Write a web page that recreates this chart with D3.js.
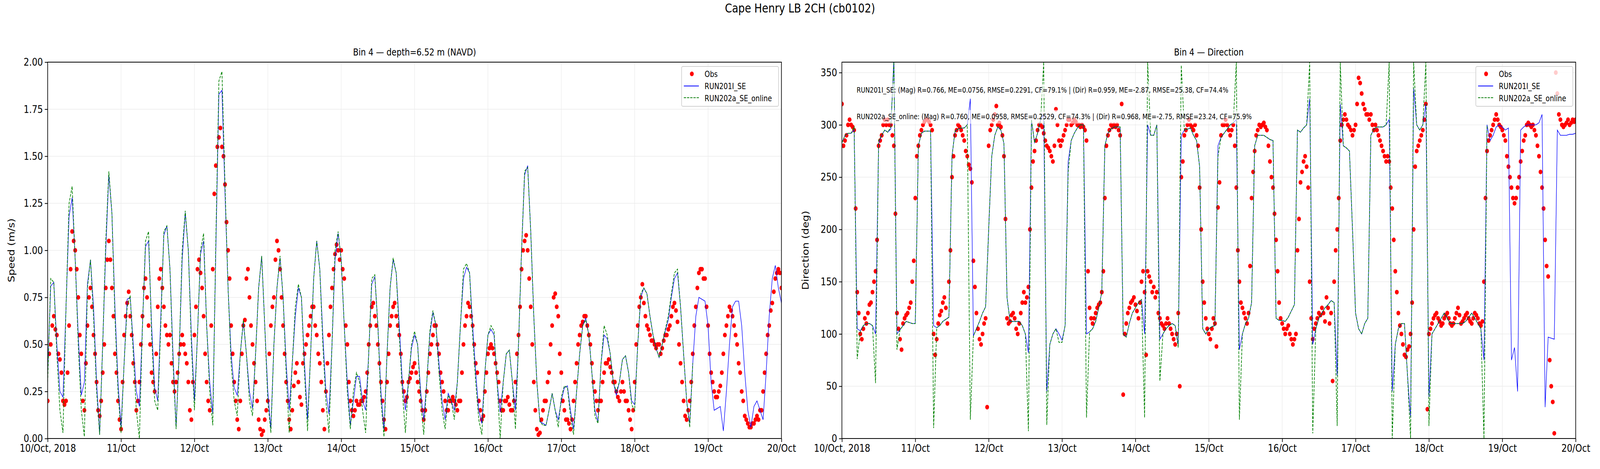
<!DOCTYPE html>
<html lang="en">
<head>
<meta charset="utf-8" />
<title>Cape Henry LB 2CH (cb0102)</title>
<script src="https://d3js.org/d3.v7.min.js"></script>
<style>
  html, body { margin: 0; padding: 0; width: 100%; height: 100%; overflow: hidden; background: #fff; }
  svg { display: block; }
  text { font-family: "DejaVu Sans", sans-serif; }
</style>
</head>
<body>
<script>
// ---- data (hours since 10/Oct 2018 00:00) ----
const dayLabels = ["10/Oct, 2018", "11/Oct", "12/Oct", "13/Oct", "14/Oct", "15/Oct", "16/Oct", "17/Oct", "18/Oct", "19/Oct", "20/Oct"];
const speedTicks = [0, 0.25, 0.5, 0.75, 1.0, 1.25, 1.5, 1.75, 2.0];
const dirTicks = [0, 50, 100, 150, 200, 250, 300, 350];

// model speed, hourly
const speedRun201 = [
  0.35,0.81,0.83,0.5,0.25,0.22,0.7,1.18,1.28,0.95,0.55,0.23,0.3,0.82,0.95,0.7,0.3,0.02,0.5,1.0,1.40,1.2,0.7,0.3,
  0.06,0.4,0.74,0.75,0.5,0.25,0.17,0.6,1.02,1.05,0.6,0.27,0.2,0.65,1.08,1.13,0.9,0.45,0.06,0.45,0.95,1.2,1.0,0.55,
  0.2,0.55,0.98,1.05,0.6,0.3,0.13,1.0,1.83,1.85,1.3,0.8,0.45,0.27,0.23,0.45,0.62,0.45,0.25,0.16,0.45,0.8,0.97,0.6,
  0.25,0.05,0.5,0.8,0.96,0.75,0.4,0.15,0.4,0.65,0.8,0.75,0.4,0.1,0.45,0.85,1.05,0.9,0.55,0.25,0.13,0.5,0.95,1.09,
  0.95,0.6,0.3,0.07,0.2,0.33,0.33,0.2,0.15,0.45,0.82,0.86,0.6,0.25,0.05,0.45,0.8,0.95,0.88,0.6,0.3,0.15,0.3,0.48,
  0.55,0.5,0.25,0.1,0.3,0.55,0.67,0.6,0.4,0.2,0.1,0.24,0.2,0.15,0.3,0.6,0.85,0.91,0.88,0.6,0.35,0.15,0.08,0.35,
  0.55,0.58,0.55,0.3,0.14,0.3,0.45,0.47,0.3,0.15,0.5,1.0,1.4,1.45,1.1,0.65,0.3,0.09,0.08,0.07,0.15,0.24,0.15,0.1,
  0.2,0.27,0.28,0.15,0.05,0.25,0.45,0.6,0.64,0.55,0.35,0.15,0.09,0.4,0.55,0.53,0.45,0.3,0.23,0.3,0.42,0.44,0.35,0.2,
  0.18,0.5,0.75,0.8,0.77,0.65,0.55,0.48,0.43,0.5,0.57,0.63,0.75,0.85,0.88,0.7,0.45,0.2,0.08,0.4,0.65,0.75,0.74,0.73,
  0.6,0.3,0.15,0.16,0.17,0.04,0.25,0.5,0.7,0.73,0.73,0.6,0.35,0.15,0.06,0.17,0.2,0.15,0.1,0.35,0.65,0.85,0.92,0.8,0.72
];
const speedRun202 = [
  0.3,0.85,0.83,0.45,0.15,0.03,0.7,1.25,1.34,0.95,0.5,0.15,0.01,0.8,0.95,0.65,0.25,0.02,0.5,1.05,1.42,1.2,0.65,0.25,
  0.03,0.4,0.7,0.76,0.45,0.15,0.0,0.6,1.05,1.1,0.55,0.2,0.15,0.6,1.1,1.13,0.9,0.4,0.05,0.45,1.0,1.21,1.0,0.5,
  0.15,0.55,1.0,1.09,0.6,0.25,0.07,1.05,1.9,1.95,1.35,0.8,0.4,0.2,0.12,0.45,0.63,0.45,0.2,0.12,0.45,0.8,0.97,0.6,
  0.2,0.03,0.5,0.8,0.97,0.75,0.35,0.03,0.4,0.7,0.82,0.75,0.35,0.04,0.45,0.85,1.05,0.9,0.5,0.2,0.03,0.5,1.0,1.1,
  0.95,0.6,0.25,0.05,0.25,0.35,0.3,0.15,0.03,0.45,0.85,0.87,0.6,0.2,0.01,0.45,0.8,0.96,0.88,0.55,0.25,0.03,0.3,0.5,
  0.57,0.5,0.2,0.02,0.3,0.57,0.68,0.6,0.35,0.15,0.05,0.23,0.2,0.1,0.3,0.6,0.9,0.93,0.88,0.55,0.3,0.1,0.02,0.35,
  0.55,0.6,0.57,0.3,0.0,0.3,0.45,0.47,0.3,0.05,0.5,1.0,1.42,1.44,1.1,0.65,0.3,0.09,0.07,0.07,0.15,0.24,0.15,0.06,
  0.22,0.28,0.27,0.12,0.02,0.25,0.45,0.6,0.63,0.55,0.35,0.12,0.08,0.4,0.6,0.55,0.45,0.3,0.25,0.3,0.42,0.44,0.35,0.18,
  0.15,0.5,0.77,0.8,0.77,0.65,0.55,0.48,0.43,0.5,0.58,0.65,0.77,0.88,0.9,0.7,0.45,0.2,0.06,0.4
];
// observed speed, half-hourly
const speedObs = [
  0.2,0.45,0.5,0.6,0.65,0.58,0.55,0.45,0.42,0.35,0.2,0.18,0.2,0.35,0.6,0.9,
  1.1,1.05,1.0,0.9,0.75,0.55,0.45,0.2,0.15,0.4,0.6,0.75,0.8,0.7,0.55,0.45,
  0.3,0.15,0.12,0.2,0.35,0.5,0.8,0.95,1.05,0.95,0.8,0.65,0.45,0.35,0.2,0.1,
  0.05,0.3,0.55,0.65,0.72,0.78,0.65,0.55,0.4,0.3,0.15,0.2,0.3,0.5,0.65,0.8,
  0.85,0.75,0.6,0.5,0.35,0.3,0.25,0.45,0.7,0.85,0.9,0.8,0.7,0.6,0.55,0.5,
  0.55,0.4,0.3,0.25,0.3,0.35,0.45,0.5,0.55,0.5,0.45,0.4,0.3,0.15,0.1,0.3,
  0.55,0.7,0.9,0.95,0.88,0.8,0.65,0.45,0.3,0.2,0.15,0.6,0.9,1.3,1.45,1.55,
  1.6,1.65,1.55,1.5,1.35,1.15,1.0,0.85,0.6,0.45,0.3,0.2,0.1,0.05,0.2,0.45,
  0.6,0.63,0.85,0.9,0.75,0.6,0.5,0.4,0.3,0.2,0.1,0.05,0.02,0.04,0.1,0.15,
  0.2,0.45,0.6,0.7,0.75,0.95,1.05,1.0,0.9,0.75,0.6,0.45,0.3,0.2,0.1,0.05,
  0.15,0.28,0.35,0.4,0.3,0.22,0.18,0.4,0.45,0.5,0.55,0.6,0.65,0.7,0.7,0.6,
  0.55,0.45,0.4,0.3,0.15,0.05,0.25,0.4,0.55,0.7,0.8,0.9,0.98,1.03,1.0,0.95,
  1.0,0.9,0.85,0.6,0.5,0.3,0.2,0.15,0.12,0.15,0.2,0.18,0.18,0.2,0.2,0.22,
  0.25,0.35,0.5,0.6,0.7,0.72,0.65,0.6,0.5,0.4,0.3,0.2,0.1,0.05,0.3,0.45,
  0.6,0.65,0.7,0.72,0.65,0.6,0.55,0.45,0.3,0.25,0.2,0.22,0.3,0.32,0.35,0.38,
  0.4,0.35,0.3,0.25,0.2,0.15,0.1,0.15,0.25,0.35,0.45,0.5,0.55,0.6,0.6,0.5,
  0.45,0.35,0.3,0.25,0.2,0.15,0.15,0.2,0.2,0.22,0.2,0.18,0.15,0.2,0.2,0.35,
  0.5,0.6,0.65,0.72,0.7,0.65,0.6,0.5,0.4,0.35,0.2,0.15,0.1,0.12,0.25,0.35,
  0.45,0.48,0.5,0.48,0.45,0.4,0.35,0.3,0.2,0.15,0.15,0.2,0.2,0.22,0.18,0.15,
  0.15,0.2,0.3,0.45,0.55,0.7,0.9,1.0,1.05,1.08,1.0,0.85,0.7,0.5,0.3,0.15,
  0.05,0.02,0.03,0.1,0.15,0.2,0.2,0.3,0.35,0.5,0.6,0.75,0.77,0.7,0.65,0.45,
  0.35,0.2,0.15,0.1,0.1,0.08,0.05,0.1,0.2,0.3,0.4,0.5,0.55,0.6,0.62,0.65,
  0.65,0.6,0.55,0.5,0.4,0.3,0.25,0.2,0.15,0.2,0.2,0.3,0.35,0.4,0.4,0.42,
  0.38,0.35,0.3,0.3,0.25,0.22,0.2,0.25,0.3,0.25,0.2,0.2,0.15,0.1,0.05,0.15,
  0.3,0.5,0.6,0.7,0.75,0.82,0.72,0.65,0.6,0.58,0.55,0.52,0.52,0.5,0.48,0.5,
  0.5,0.45,0.48,0.52,0.55,0.55,0.58,0.6,0.65,0.7,0.72,0.68,0.62,0.5,0.4,0.3,
  0.2,0.12,0.1,0.15,0.2,0.3,0.45,0.6,0.7,0.8,0.88,0.9,0.9,0.85,0.85,0.7,
  0.6,0.45,0.35,0.3,0.25,0.22,0.22,0.25,0.28,0.35,0.45,0.55,0.6,0.65,0.7,0.68,
  0.65,0.6,0.55,0.5,0.4,0.35,0.25,0.2,0.12,0.1,0.08,0.06,0.06,0.08,0.08,0.1,
  0.12,0.1,0.15,0.15,0.25,0.35,0.45,0.55,0.6,0.68,0.72,0.78,0.85,0.88,0.9,0.88,
  0.8
];

// model direction, hourly
const dirRun201 = [
  283,290,292,292,295,105,103,108,110,110,108,100,282,290,295,293,296,365,100,104,108,112,111,110,
  110,280,292,294,294,294,108,106,108,112,114,116,270,294,296,297,297,300,325,98,105,112,120,126,
  200,270,290,298,295,282,135,112,112,112,112,108,100,82,305,283,292,305,310,45,90,100,105,100,
  94,108,265,285,292,297,300,300,100,102,105,112,125,140,280,292,296,298,298,298,100,97,110,120,
  125,130,133,100,300,290,290,300,95,100,105,108,110,108,90,290,295,296,297,290,285,260,105,100,
  105,107,108,280,288,292,296,300,302,305,85,100,110,115,130,280,290,290,290,288,286,285,115,113,
  113,112,116,122,128,295,293,297,300,325,90,105,115,120,125,128,132,130,60,320,280,278,275,200,
  120,105,100,110,115,290,296,298,298,298,300,305,45,90,105,110,110,60,20,335,300,295,300,320,
  40,100,105,110,115,120,115,110,110,110,110,110,112,116,120,115,110,105,75,300,285,290,298,300,
  298,295,297,75,87,45,295,298,300,300,300,300,302,310,30,97,96,95,295,290,290,290,291,291,292
];
const dirRun202 = [
  283,290,292,292,298,76,102,108,110,110,108,53,285,290,295,293,298,360,85,104,108,112,111,110,
  110,280,292,294,294,294,10,106,108,112,114,116,270,294,296,297,297,300,18,98,105,112,120,126,
  200,270,290,298,295,282,135,112,112,112,112,108,100,7,305,283,292,305,360,13,90,100,105,92,
  92,108,255,285,292,297,300,300,20,102,105,112,125,140,280,292,296,298,298,298,100,97,110,120,
  125,130,133,20,360,290,290,300,55,100,105,108,110,108,87,357,295,296,297,290,285,260,105,100,
  105,107,108,270,288,292,296,300,302,360,18,100,110,115,130,280,290,290,290,288,286,285,115,113,
  113,112,116,122,128,295,293,297,300,360,5,105,115,120,125,128,132,130,12,360,280,278,275,200,
  120,105,100,110,115,290,296,298,298,298,300,360,0,90,105,110,110,60,0,360,300,295,300,360,
  12,100,105,110,115,120,115,110,110,110,110,110,112,116,120,115,110,105,0,300
];
// observed direction, half-hourly
const dirObs = [
  320,280,285,290,300,305,300,298,295,220,140,120,100,95,105,115,
  110,120,128,130,140,150,160,190,280,285,290,300,305,300,305,300,
  300,290,280,215,120,105,95,85,110,115,118,120,125,130,150,170,
  230,270,280,290,295,300,303,305,305,303,300,295,100,80,95,110,
  118,122,130,135,125,110,150,180,250,270,290,295,300,298,295,290,
  285,275,270,262,258,245,170,145,120,105,95,90,100,110,115,30,
  280,295,300,305,310,318,300,302,298,290,270,210,115,110,112,118,
  120,115,105,100,110,120,130,140,130,135,145,200,240,265,275,285,
  295,300,300,298,292,285,280,278,275,270,265,280,315,300,285,280,
  285,290,295,300,305,305,300,302,305,303,300,300,298,300,298,295,
  285,160,125,115,110,115,120,125,128,130,140,160,230,280,290,295,
  300,298,300,298,300,295,290,320,42,100,110,120,125,130,132,135,
  128,122,115,130,150,160,140,80,160,155,150,140,145,135,140,120,
  115,110,108,105,110,115,110,105,100,95,90,100,120,50,250,265,
  290,295,300,305,300,298,295,300,290,280,240,200,150,130,115,105,
  100,95,105,115,110,88,221,245,290,300,300,305,300,295,290,295,
  300,280,240,180,150,130,125,120,115,110,120,165,230,255,275,290,
  295,300,298,300,302,298,295,280,265,250,240,215,190,160,130,115,
  110,105,100,105,108,100,95,90,95,100,180,210,245,255,265,270,
  260,240,150,115,95,105,110,115,120,118,125,120,112,135,125,110,
  120,55,150,180,200,230,285,300,305,310,305,300,298,295,290,295,
  300,320,345,340,330,320,315,310,310,305,310,300,295,300,295,290,
  285,280,275,270,265,270,265,240,220,190,160,140,120,108,100,90,
  80,78,85,88,100,130,200,260,275,280,285,290,295,305,320,28,
  100,105,110,115,118,120,115,112,108,110,115,118,120,115,110,108,
  110,115,120,125,118,110,112,115,118,120,115,112,110,115,120,118,
  115,110,108,112,150,230,275,285,290,295,300,305,310,305,300,298,
  295,290,285,270,260,250,240,230,225,230,240,250,265,275,285,290,
  300,302,300,298,300,295,290,280,270,255,240,220,190,165,155,75,
  50,35,5,350,330,310,305,300,298,300,302,305,300,302,305,303,
  305
];
const statLines = [
  "RUN201I_SE: (Mag) R=0.766, ME=0.0756, RMSE=0.2291, CF=79.1% | (Dir) R=0.959, ME=-2.87, RMSE=25.38, CF=74.4%",
  "RUN202a_SE_online: (Mag) R=0.760, ME=0.0958, RMSE=0.2529, CF=74.3% | (Dir) R=0.968, ME=-2.75, RMSE=23.24, CF=75.9%"
];

// ---- drawing ----
const W = 5000, H = 1200;
const svg = d3.select("body").append("svg")
  .attr("width", "100%").attr("height", "100%")
  .attr("viewBox", `0 0 ${W} ${H}`).attr("preserveAspectRatio", "none");

svg.append("text").attr("x", 2500).attr("y", 32).attr("text-anchor", "middle")
  .attr("font-size", 32).text("Cape Henry LB 2CH (cb0102)");

const hourly = arr => arr.map((v, i) => ({ t: i, v: v }));
const halfHourly = arr => arr.map((v, i) => ({ t: i / 2, v: v }));

function panel(opts) {
  const { left, right, top, bottom, domain, ticks, tickFmt, title, ylabel, obs, m1, m2, id } = opts;
  const x = d3.scaleLinear().domain([0, 240]).range([left, right]);
  const y = d3.scaleLinear().domain(domain).range([bottom, top]);
  const g = svg.append("g");

  g.append("clipPath").attr("id", "clip" + id).append("rect")
    .attr("x", left).attr("y", top).attr("width", right - left).attr("height", bottom - top);

  // grid
  g.append("g").selectAll("line").data(d3.range(0, 241, 24)).join("line")
    .attr("x1", d => x(d)).attr("x2", d => x(d)).attr("y1", top).attr("y2", bottom)
    .attr("stroke", "#ebebeb").attr("stroke-width", 1.5);
  g.append("g").selectAll("line").data(ticks).join("line")
    .attr("x1", left).attr("x2", right).attr("y1", d => y(d)).attr("y2", d => y(d))
    .attr("stroke", "#ebebeb").attr("stroke-width", 1.5);

  const plot = g.append("g").attr("clip-path", "url(#clip" + id + ")");
  plot.selectAll("circle").data(halfHourly(obs)).join("circle")
    .attr("cx", d => x(d.t)).attr("cy", d => y(d.v)).attr("r", 6).attr("fill", "#ff0000");
  const line = d3.line().x(d => x(d.t)).y(d => y(d.v));
  plot.append("path").datum(hourly(m1)).attr("d", line)
    .attr("fill", "none").attr("stroke", "#0000ff").attr("stroke-width", 1.6);
  plot.append("path").datum(hourly(m2)).attr("d", line)
    .attr("fill", "none").attr("stroke", "#008000").attr("stroke-width", 2)
    .attr("stroke-dasharray", "7,3");

  // axes
  const xAxis = d3.axisBottom(x).tickValues(d3.range(0, 241, 24))
    .tickFormat((d, i) => dayLabels[i]).tickSize(9).tickPadding(6);
  const gx = g.append("g").attr("transform", `translate(0,${bottom})`).call(xAxis);
  const yAxis = d3.axisLeft(y).tickValues(ticks).tickFormat(tickFmt).tickSize(9).tickPadding(6);
  const gy = g.append("g").attr("transform", `translate(${left},0)`).call(yAxis);
  [gx, gy].forEach(a => {
    a.select(".domain").remove();
    a.selectAll("line").attr("stroke", "#000").attr("stroke-width", 2);
    a.selectAll("text").attr("font-size", 27).attr("fill", "#000")
      .attr("font-family", "DejaVu Sans, sans-serif");
  });
  g.append("rect").attr("x", left).attr("y", top).attr("width", right - left).attr("height", bottom - top)
    .attr("fill", "none").attr("stroke", "#000").attr("stroke-width", 2);

  g.append("text").attr("x", (left + right) / 2).attr("y", top - 17).attr("text-anchor", "middle")
    .attr("font-size", 25).text(title);
  g.append("text").attr("transform", `translate(${left - 104},${(top + bottom) / 2}) rotate(-90)`)
    .attr("text-anchor", "middle").attr("font-size", 27).text(ylabel);

  // legend
  const lx = right - 312, ly = top + 11;
  const lg = g.append("g");
  lg.append("rect").attr("x", lx).attr("y", ly).attr("width", 303).attr("height", 102).attr("rx", 4)
    .attr("fill", "#fff").attr("fill-opacity", 0.8).attr("stroke", "#d0d0d0").attr("stroke-width", 2);
  lg.append("circle").attr("cx", lx + 32).attr("cy", ly + 19).attr("r", 6).attr("fill", "#ff0000");
  lg.append("line").attr("x1", lx + 7).attr("x2", lx + 54).attr("y1", ly + 50).attr("y2", ly + 50)
    .attr("stroke", "#0000ff").attr("stroke-width", 2);
  lg.append("line").attr("x1", lx + 7).attr("x2", lx + 54).attr("y1", ly + 80).attr("y2", ly + 80)
    .attr("stroke", "#008000").attr("stroke-width", 2).attr("stroke-dasharray", "7,3");
  ["Obs", "RUN201I_SE", "RUN202a_SE_online"].forEach((s, i) => {
    lg.append("text").attr("x", lx + 72).attr("y", ly + 27 + i * 31).attr("font-size", 21).text(s);
  });
  return { x, y, g };
}

const p1 = panel({ id: 1, left: 149, right: 2442, top: 159, bottom: 1122, domain: [0, 2], ticks: speedTicks,
  tickFmt: d3.format(".2f"), title: "Bin 4 \u2014 depth=6.52 m (NAVD)", ylabel: "Speed (m/s)",
  obs: speedObs, m1: speedRun201, m2: speedRun202 });
const p2 = panel({ id: 2, left: 2631, right: 4924, top: 159, bottom: 1122, domain: [0, 360], ticks: dirTicks,
  tickFmt: d3.format("d"), title: "Bin 4 \u2014 Direction", ylabel: "Direction (deg)",
  obs: dirObs, m1: dirRun201, m2: dirRun202 });

// stats annotations with translucent boxes
statLines.forEach((s, i) => {
  const ty = 237 + i * 68;
  const t = p2.g.append("text").attr("x", 2677).attr("y", ty).attr("font-size", 19).text(s);
  const bb = t.node().getBBox();
  p2.g.insert("rect", () => t.node()).attr("x", bb.x - 5).attr("y", bb.y - 6)
    .attr("width", bb.width + 10).attr("height", bb.height + 12)
    .attr("fill", "#fff").attr("fill-opacity", 0.6);
});
</script>
</body>
</html>
